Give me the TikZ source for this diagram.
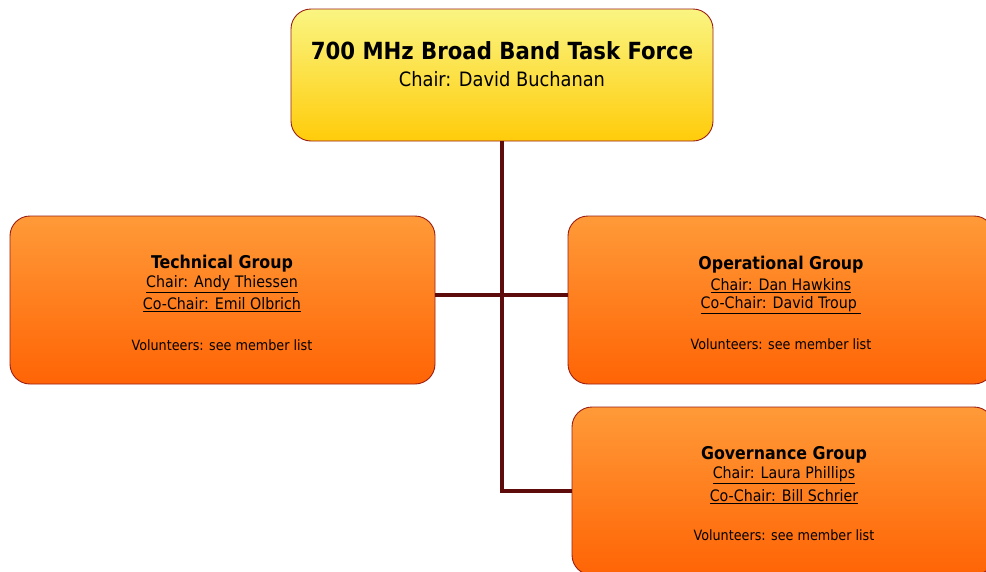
\documentclass[tikz,border=0pt]{standalone}
\usepackage{fontspec}
\setmainfont{DejaVu Sans Condensed}
\definecolor{bordred}{HTML}{9A1E14}
\definecolor{linebrown}{HTML}{5E0B0B}
\definecolor{ylwtop}{HTML}{FAF582}
\definecolor{ylwbot}{HTML}{FFCC0A}
\definecolor{orgtop}{HTML}{FF9A38}
\definecolor{orgbot}{HTML}{FF6405}
\tikzset{
  boxbase/.style={draw=bordred, line width=0.9pt, rounded corners=20pt, inner sep=0pt},
  ylwbox/.style={boxbase, top color=ylwtop, bottom color=ylwbot},
  orgbox/.style={boxbase, top color=orgtop, bottom color=orgbot},
  conn/.style={draw=linebrown, line width=3.2pt},
  gtitle/.style={font=\fontsize{17.6}{20}\selectfont\bfseries, inner sep=0pt},
  gline/.style={font=\fontsize{15.8}{18}\selectfont, inner sep=0pt},
  vline/.style={font=\fontsize{14.2}{16}\selectfont, inner sep=0pt},
}
\begin{document}
\begin{tikzpicture}[x=1pt,y=-1pt]
\useasboundingbox (0,0) rectangle (986,571);
\clip (0,0) rectangle (986,571);
% boxes
\node[ylwbox, minimum width=422pt, minimum height=132pt] (top) at (502,75) {};
\node[orgbox, minimum width=425pt, minimum height=168pt] (tech) at (222.5,300) {};
\node[orgbox, minimum width=426pt, minimum height=168pt] (ops) at (781,300) {};
\node[orgbox, minimum width=422pt, minimum height=168pt] (gov) at (783,491) {};
% connectors
\coordinate (hub) at (top.south |- 0,295);
\draw[conn] (top.south) -- (top.south |- gov.west) -- (gov.west);
\draw[conn] (tech.east |- hub) -- (ops.west |- hub);
% top texts
\node[font=\fontsize{23.6}{27}\selectfont\bfseries, inner sep=0pt] (toptitle) at (502,51) {700 MHz Broad Band Task Force};
\node[font=\fontsize{19.8}{23}\selectfont, inner sep=0pt] (topchair) at (502,79) {Chair: David Buchanan};
% technical
\node[gtitle] (techt) at (222,263.5) {Technical Group};
\node[gline] (techc) at (222,284.5) {\underline{Chair: Andy Thiessen}};
\node[gline] (techcc) at (222,304.5) {\underline{Co-Chair: Emil Olbrich}};
\node[vline] (techv) at (222,345) {Volunteers: see member list};
% operational
\node[gtitle] (opst) at (781,264.5) {Operational Group};
\node[gline] (opsc) at (781,285.5) {\underline{Chair: Dan Hawkins}};
\node[gline] (opscc) at (781,305.5) {\underline{Co-Chair: David Troup\ }};
\node[vline] (opsv) at (781,344) {Volunteers: see member list};
% governance
\node[gtitle] (govt) at (784,454.5) {Governance Group};
\node[gline] (govc) at (784,475.5) {\underline{Chair: Laura Phillips}};
\node[gline] (govcc) at (784,496.5) {\underline{Co-Chair: Bill Schrier}};
\node[vline] (govv) at (784,535) {Volunteers: see member list};
\end{tikzpicture}
\end{document}
